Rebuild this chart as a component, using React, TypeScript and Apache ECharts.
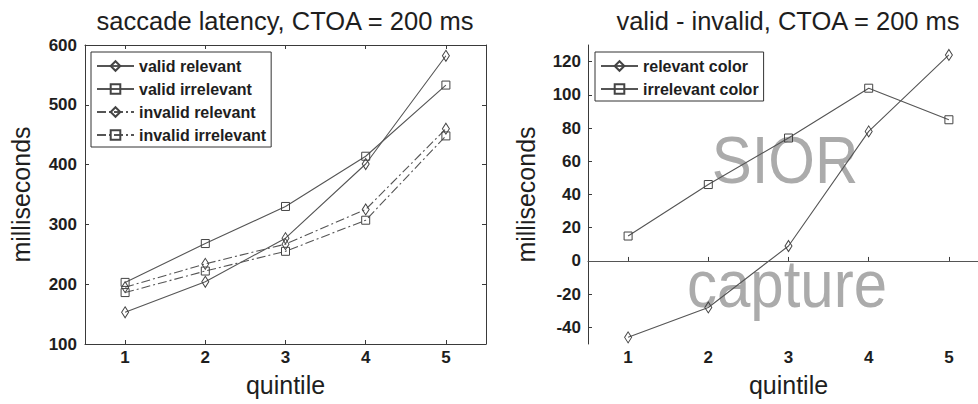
import React, { useEffect, useRef } from "react";
import * as echarts from "echarts";

const quintiles = ["1", "2", "3", "4", "5"];
const validRelevant = [153, 204, 277, 401, 582];
const validIrrelevant = [203, 268, 330, 414, 533];
const invalidRelevant = [195, 234, 267, 325, 460];
const invalidIrrelevant = [186, 222, 255, 307, 448];
const relevantColor = [-46, -28, 9, 78, 124];
const irrelevantColor = [15, 46, 74, 104, 85];

const FONT = "'Liberation Sans', Arial, Helvetica, sans-serif";
const AXIS = "#3a3a3a";
const LINE = "#555555";
const TXT = "#1e1e1e";
const DASHDOT = [9, 3, 2, 3];

function lineSeries(name: string, data: number[], symbol: string, dashed: boolean, xi: number, yi: number) {
  return {
    type: "line",
    name,
    data,
    xAxisIndex: xi,
    yAxisIndex: yi,
    z: 3,
    symbol,
    symbolSize: symbol === "diamond" ? [7, 11] : [8, 8],
    showSymbol: true,
    lineStyle: { color: LINE, width: 1.1, type: dashed ? DASHDOT : "solid" },
    itemStyle: { color: "rgba(0,0,0,0)", borderColor: "#444", borderWidth: 1 },
    emphasis: { disabled: true },
  };
}

export default function App() {
  const ref = useRef<HTMLDivElement>(null);
  useEffect(() => {
    if (!ref.current) return;
    const chart = echarts.init(ref.current, undefined, { renderer: "svg" });
    const tickLabel = { color: TXT, fontSize: 17, fontWeight: "bold", fontFamily: FONT };
    const nameStyle = { color: TXT, fontSize: 25, fontFamily: FONT };
    const axisLine = { show: true, lineStyle: { color: AXIS, width: 1 } };
    const tickIn = { show: true, inside: true, length: 4, lineStyle: { color: AXIS } };
    const legendBase = {
      orient: "vertical",
      top: 52,
      itemWidth: 37,
      itemHeight: 12,
      itemGap: 7,
      padding: [6, 5, 4, 5],
      borderColor: "#333",
      borderWidth: 1,
      backgroundColor: "#fff",
      selectedMode: false,
      textStyle: { color: TXT, fontSize: 16, fontWeight: "bold", fontFamily: FONT, lineHeight: 16 },
    };
    chart.setOption({
      animation: false,
      backgroundColor: "#fff",
      textStyle: { fontFamily: FONT },
      title: [
        { text: "saccade latency, CTOA = 200 ms", left: 285, top: 8, padding: 0, textAlign: "center",
          textStyle: { color: TXT, fontSize: 25.5, fontWeight: "normal", fontFamily: FONT } },
        { text: "valid - invalid, CTOA = 200 ms", left: 788, top: 8, padding: 0, textAlign: "center",
          textStyle: { color: TXT, fontSize: 25.5, fontWeight: "normal", fontFamily: FONT } },
      ],
      grid: [
        { left: 85, top: 45, width: 401, height: 299 },
        { left: 588, top: 45, width: 401, height: 299 },
      ],
      legend: [
        { ...legendBase, left: 91, data: ["valid relevant", "valid irrelevant", "invalid relevant", "invalid irrelevant"] },
        { ...legendBase, left: 595, data: ["relevant color", "irrelevant color"] },
      ],
      xAxis: [
        { type: "category", gridIndex: 0, position: "bottom", data: quintiles, boundaryGap: true,
          axisLine, axisTick: { ...tickIn, alignWithLabel: true }, axisLabel: { ...tickLabel, margin: 5 },
          splitLine: { show: false }, name: "quintile", nameLocation: "middle", nameGap: 28, nameTextStyle: nameStyle },
        { type: "category", gridIndex: 0, position: "top", data: quintiles, boundaryGap: true,
          axisLine, axisTick: { ...tickIn, alignWithLabel: true }, axisLabel: { show: false }, splitLine: { show: false } },
        { type: "category", gridIndex: 1, position: "bottom", data: quintiles, boundaryGap: true,
          axisLine, axisTick: { ...tickIn, alignWithLabel: true }, axisLabel: { ...tickLabel, margin: 5 },
          splitLine: { show: false }, name: "quintile", nameLocation: "middle", nameGap: 28, nameTextStyle: nameStyle },
      ],
      yAxis: [
        { type: "value", gridIndex: 0, position: "left", min: 100, max: 600, interval: 100,
          axisLine, axisTick: tickIn, axisLabel: { ...tickLabel, margin: 8 }, splitLine: { show: false },
          name: "milliseconds", nameLocation: "middle", nameGap: 52, nameTextStyle: nameStyle },
        { type: "value", gridIndex: 0, position: "right", min: 100, max: 600, interval: 100,
          axisLine, axisTick: tickIn, axisLabel: { show: false }, splitLine: { show: false } },
        { type: "value", gridIndex: 1, position: "left", min: -50, max: 130, splitNumber: 9,
          axisLine, axisTick: tickIn,
          axisLabel: { ...tickLabel, margin: 7, showMinLabel: false, showMaxLabel: false,
            formatter: (v: number) => (v % 20 === 0 ? String(v) : "") },
          splitLine: { show: false },
          name: "milliseconds", nameLocation: "middle", nameGap: 50, nameTextStyle: nameStyle },
      ],
      graphic: [
        { type: "text", x: 785, y: 160, z: 0, scaleY: 1.1,
          style: { text: "SIOR", fontSize: 60, fontFamily: FONT, fill: "#ababab", align: "center", verticalAlign: "middle" } },
        { type: "text", x: 787, y: 284, z: 0, scaleY: 1.1,
          style: { text: "capture", fontSize: 60, fontFamily: FONT, fill: "#ababab", align: "center", verticalAlign: "middle" } },
      ],
      series: [
        lineSeries("valid relevant", validRelevant, "diamond", false, 0, 0),
        lineSeries("valid irrelevant", validIrrelevant, "rect", false, 0, 0),
        lineSeries("invalid relevant", invalidRelevant, "diamond", true, 0, 0),
        lineSeries("invalid irrelevant", invalidIrrelevant, "rect", true, 0, 0),
        {
          ...lineSeries("relevant color", relevantColor, "diamond", false, 2, 2),
          markLine: {
            silent: true,
            symbol: ["none", "none"],
            label: { show: false },
            lineStyle: { color: LINE, type: "solid", width: 1.2 },
            data: [{ yAxis: 0 }],
          },
        },
        lineSeries("irrelevant color", irrelevantColor, "rect", false, 2, 2),
      ],
    });
    return () => chart.dispose();
  }, []);
  return (
    <div style={{ position: "absolute", left: 0, top: 0, width: 978, height: 404, overflow: "hidden", background: "#fff" }}>
      <div ref={ref} style={{ width: 995, height: 404 }} />
    </div>
  );
}
